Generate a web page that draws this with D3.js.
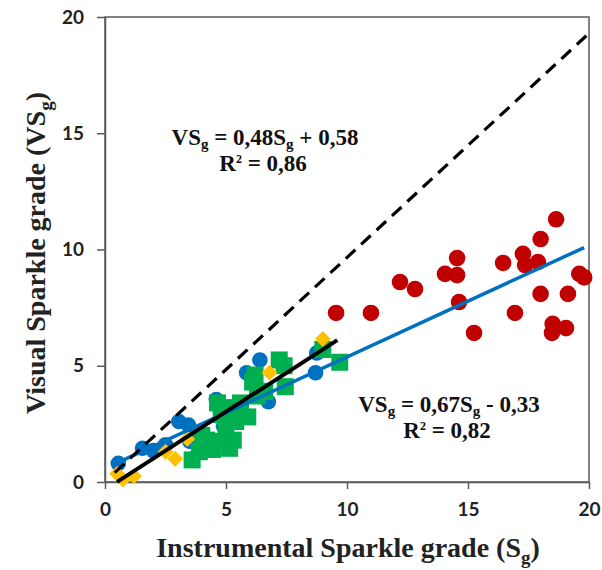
<!DOCTYPE html>
<html><head><meta charset="utf-8">
<script src="https://cdn.jsdelivr.net/npm/d3@7"></script>
<style>body{margin:0;background:#fff}svg{display:block}</style>
</head><body>
<script>
// ---- data ----
const xTicks = [0, 5, 10, 15, 20];
const yTicks = [0, 5, 10, 15, 20];
const blueCircles = [[0.55,0.8],[1.55,1.45],[2.0,1.35],[2.5,1.6],[3.05,2.6],[3.45,2.45],[3.5,1.75],[4.6,3.55],[4.9,2.4],[5.85,4.7],[6.4,5.25],[6.75,3.45],[8.7,4.7],[8.75,5.55]];
const greenSquares = [[3.6,0.95],[3.9,1.3],[4.2,1.8],[4.45,1.4],[4.75,1.75],[5.15,1.45],[5.3,1.8],[4.0,2.0],[4.65,3.4],[4.8,2.9],[5.0,2.4],[5.4,2.6],[5.3,3.2],[5.6,3.4],[5.9,2.8],[6.1,4.3],[6.3,3.7],[6.2,4.6],[6.6,3.9],[7.2,5.25],[7.45,4.1],[7.4,5.0],[9.0,5.7],[9.7,5.15]];
const yellowDiamonds = [[0.5,0.35],[0.75,0.1],[1.2,0.25],[2.5,1.3],[2.9,1.0],[3.4,1.85],[6.8,4.7],[9.0,6.15]];
const redCircles = [[9.55,7.27],[10.99,7.27],[12.19,8.6],[12.81,8.3],[14.55,9.63],[14.05,8.95],[14.55,8.9],[14.63,7.74],[15.25,6.41],[16.45,9.42],[16.94,7.27],[17.27,9.81],[17.36,9.33],[17.89,9.46],[18.0,10.45],[18.64,11.3],[18.0,8.09],[19.13,8.09],[19.6,8.95],[19.8,8.8],[18.5,6.8],[18.47,6.41],[19.05,6.62]];
const fitAll = {slope:0.48, intercept:0.58, from:0.5, to:19.8};   // blue line
const fitLow = {slope:0.67, intercept:-0.33, from:0.5, to:9.6};   // black line
const refLine = [[0.4,0.4],[20,19.3]];
const eq1 = {vs:"0,48", c:"+ 0,58", r2:"0,86"};
const eq2 = {vs:"0,67", c:"- 0,33", r2:"0,82"};

// ---- chart ----
const W = 602, H = 570;
const svg = d3.select("body").append("svg").attr("width", W).attr("height", H);
const x = d3.scaleLinear().domain([0,20]).range([105,589]);
const y = d3.scaleLinear().domain([0,20]).range([482,17]);
const frameCol = "#5a5a5a";

// frame
svg.append("rect").attr("x", x(0)).attr("y", y(20)).attr("width", x(20)-x(0)).attr("height", y(0)-y(20))
  .attr("fill","none").attr("stroke", frameCol).attr("stroke-width",1.5);

const tickFont = "Lato, 'Open Sans', sans-serif";
const gx = svg.append("g").attr("transform", `translate(0,${y(0)})`)
  .call(d3.axisBottom(x).tickValues(xTicks).tickSize(7).tickSizeOuter(0).tickPadding(14));
const gy = svg.append("g").attr("transform", `translate(${x(0)},0)`)
  .call(d3.axisLeft(y).tickValues(yTicks).tickSize(8).tickSizeOuter(0).tickPadding(13));
[gx, gy].forEach(g => {
  g.select(".domain").attr("stroke", frameCol).attr("stroke-width",1.5);
  g.selectAll(".tick line").attr("stroke", frameCol).attr("stroke-width",1.5);
  g.selectAll(".tick text").attr("fill","#222").style("font-family", tickFont)
    .style("font-weight","700").style("font-size","19px");
});

// markers
const gm = svg.append("g");
gm.selectAll(".bc").data(blueCircles).join("circle").attr("cx", d=>x(d[0])).attr("cy", d=>y(d[1]))
  .attr("r", 7.8).attr("fill", "#0070C0");
const sq = 17;
gm.selectAll(".gs").data(greenSquares).join("rect").attr("x", d=>x(d[0])-sq/2).attr("y", d=>y(d[1])-sq/2)
  .attr("width", sq).attr("height", sq).attr("fill", "#00B050");
const diamond = d3.symbol().type(d3.symbolDiamond2).size(160);
gm.selectAll(".yd").data(yellowDiamonds).join("path").attr("d", diamond)
  .attr("transform", d=>`translate(${x(d[0])},${y(d[1])})`).attr("fill", "#FFC000");
gm.selectAll(".rc").data(redCircles).join("circle").attr("cx", d=>x(d[0])).attr("cy", d=>y(d[1]))
  .attr("r", 8.3).attr("fill", "#C00000");

// lines
const line = d3.line().x(d=>x(d[0])).y(d=>y(d[1]));
const fitPts = f => [[f.from, f.slope*f.from+f.intercept],[f.to, f.slope*f.to+f.intercept]];
svg.append("path").attr("d", line(fitPts(fitAll))).attr("stroke", "#0070C0").attr("stroke-width",3.5).attr("fill","none");
svg.append("path").attr("d", line(fitPts(fitLow))).attr("stroke", "#000").attr("stroke-width",4).attr("fill","none");
svg.append("path").attr("d", line(refLine)).attr("stroke", "#000").attr("stroke-width",3.2)
  .attr("stroke-dasharray","13,8").attr("fill","none");

// text
const serif = "'Liberation Serif', 'Times New Roman', serif";
function eqText(cx, by, e) {
  const t = svg.append("text").attr("x", cx).attr("y", by).attr("text-anchor","middle")
    .style("font-family", serif).style("font-weight","700").style("font-size","23px").attr("fill","#111");
  t.append("tspan").text("VS");
  t.append("tspan").text("g").attr("dy", 4).style("font-size","15px");
  t.append("tspan").text(` = ${e.vs}S`).attr("dy", -4);
  t.append("tspan").text("g").attr("dy", 4).style("font-size","15px");
  t.append("tspan").text(` ${e.c}`).attr("dy", -4);
  const r = svg.append("text").attr("x", cx - 2).attr("y", by + 26).attr("text-anchor","middle")
    .style("font-family", serif).style("font-weight","700").style("font-size","23px").attr("fill","#111");
  r.append("tspan").text("R");
  r.append("tspan").text("2").attr("dy", -8).style("font-size","12px");
  r.append("tspan").text(` = ${e.r2}`).attr("dy", 8);
}
eqText(265, 145, eq1);
eqText(449, 412, eq2);

// axis titles
const xt = svg.append("text").attr("x", 348).attr("y", 557).attr("text-anchor","middle")
  .style("font-family", serif).style("font-weight","700").style("font-size","28px").attr("fill","#222");
xt.append("tspan").text("Instrumental Sparkle grade (S");
xt.append("tspan").text("g").attr("dy", 7).style("font-size","19px");
xt.append("tspan").text(")").attr("dy", -7);

const yt = svg.append("text").attr("transform", "translate(45,253) rotate(-90)").attr("text-anchor","middle")
  .style("font-family", serif).style("font-weight","700").style("font-size","28px").attr("fill","#222");
yt.append("tspan").text("Visual Sparkle grade (VS");
yt.append("tspan").text("g").attr("dy", 7).style("font-size","19px");
yt.append("tspan").text(")").attr("dy", -7);
</script>
</body></html>
